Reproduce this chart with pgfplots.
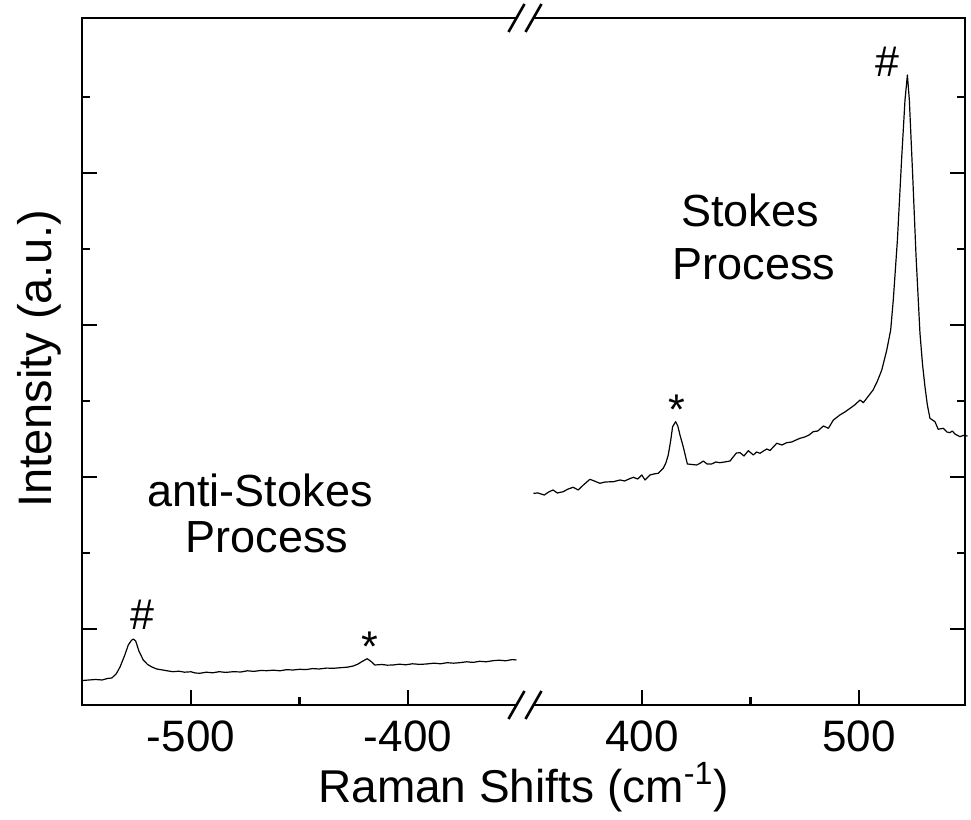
\documentclass[border=0pt]{standalone}
\usepackage{pgfplots}
\usepackage{pgfplotstable}
\pgfplotsset{compat=1.18}
\usepackage{fontspec}
\setmainfont{Liberation Sans}

% anti-Stokes branch (negative shifts)
\pgfplotstableread{
x y
-550 24.5
-547 25
-544 25.5
-541 25
-538.5 26.5
-536.5 27
-534.5 31
-532.7 38
-530.5 50
-528.9 60
-527.5 64.5
-526.6 66
-525.5 64
-524 54
-522 45
-520 40.5
-518 38
-515.8 36
-513 35
-510.5 34
-508.3 33.3
-505.5 33.8
-503 32.8
-500 33.2
-498 32
-495.9 31.7
-493 32.8
-490 32.2
-487 33.3
-484 32.6
-480.5 33.3
-477 33
-474 34.2
-471 33.6
-468 34.5
-465.1 34.3
-462 34.8
-459 34.2
-456 35.3
-453 35
-449.8 35.7
-447 35.4
-444 36.4
-441 36
-437.5 36.9
-434.4 36.7
-431 37.3
-428 37.8
-425.2 39
-423 41
-421.3 43.3
-418.8 46.3
-417 43.5
-415.3 40
-412 40.5
-409.5 39.8
-406.9 40
-404 40.8
-401 40.2
-398 41.2
-394.5 40.6
-391.5 41
-388 41.8
-385 41.2
-382 42.3
-379 41.8
-376.2 42.3
-373 43.2
-370 42.6
-367 43.7
-364 43.2
-360.8 44.3
-358 44.8
-355 44.2
-352 45.4
-350 45
}\antistokes

% Stokes branch (positive shifts)
\pgfplotstableread{
x y
350 211.7
352 212
355 210
357 213
359 215
361 212
363.7 213.3
366 216
368.3 217.7
370.6 215
373 220
376 225.7
378 224
380.6 221.7
383 223
386.8 223.3
389.9 225
392 224
394 226
396 227.7
398 226
399.9 230
401.4 225
403.7 230
405.5 231
407.5 231.7
409.8 236.7
411 242
412.1 250
413.2 264
414.1 278.3
415.5 283.3
416.5 279
417.5 270
419 258.3
420.9 241
423 240.5
425.2 240
427 242
428.2 244
430 241
432.1 241
434 243
435.9 242.3
438 243
440.6 244
442 248
443.5 252
445.2 252.3
447 249
449 254.3
451.3 250
452.8 253
454.4 251.7
456 254
457.5 256
459 254.5
462.1 261.7
464.5 260
466.7 262.3
469 263
471 265
472.8 266.7
475 268
477 270
478.9 273.3
481 274
483.6 279
485.9 276.7
488.2 285
491.2 290
493.5 293
495.9 296.7
498 300
500.5 305
502 302.3
504 308
506.5 315
508.5 324
510.5 335
512.8 355
514.6 375
515.8 405
517.7 465
519.7 548.3
521.2 605
522.3 630
523.2 605
524.7 531.7
526.3 448.3
528.1 371.7
529.3 340
530.4 318.3
531.5 300
532.7 286.7
535 283.3
536.5 275.7
538.8 276.7
540.5 273
541.9 272.3
543 274
544.2 271
546.5 268.3
548 269.5
550 269
}\stokes

\begin{document}
\begin{tikzpicture}
\begin{axis}[
    scale only axis,
    width=441.5pt, height=343.5pt,
    xmin=0, xmax=883, ymin=0, ymax=687,
    clip=false,
    line width=1.3pt,
    tick style={black, line width=1.3pt},
    major tick length=7.5pt, minor tick length=4pt,
    xtick={109,326,560,777},
    xticklabels={-500,-400,400,500},
    minor xtick={217.5,668.5},
    xtick pos=bottom,
    ytick={76,228,380,532},
    minor ytick={152,304,456,608},
    yticklabels={},
    ytick pos=both,
    xticklabel style={font=\fontsize{22}{26}\selectfont, anchor=base, yshift=-23.5pt},
]
\addplot[black, line width=0.6pt, line join=round, mark=none]
    table[x expr={109+(\thisrow{x}+500)*2.17}, y=y] {\antistokes};
\addplot[black, line width=0.6pt, line join=round, mark=none]
    table[x expr={560+(\thisrow{x}-400)*2.17}, y=y] {\stokes};

\node[anchor=base, font=\fontsize{21.5}{24}\selectfont] at (axis cs:60,75) {\#};
\node[anchor=base, font=\fontsize{21.5}{24}\selectfont] at (axis cs:288,43.5) {*};
\node[anchor=base, font=\fontsize{21.5}{24}\selectfont] at (axis cs:595,280.5) {*};
\node[anchor=base, font=\fontsize{21.5}{24}\selectfont] at (axis cs:805,628) {\#};

\node[anchor=base, font=\fontsize{22.5}{26}\selectfont] at (axis cs:178,198) {anti-Stokes};
\node[anchor=base, font=\fontsize{22.5}{26}\selectfont] at (axis cs:185,152) {Process};
\node[anchor=base, font=\fontsize{22.5}{26}\selectfont] at (axis cs:668,478) {Stokes};
\node[anchor=base, font=\fontsize{22.5}{26}\selectfont] at (axis cs:672,425) {Process};

\node[anchor=base, font=\fontsize{23}{27}\selectfont] at (axis cs:441.5,-98) {Raman Shifts (cm\textsuperscript{-1})};
\node[anchor=base, rotate=90, font=\fontsize{23.5}{27}\selectfont] at (axis cs:-30,346) {Intensity (a.u.)};

\coordinate (bl) at (axis cs:434.5,0);
\coordinate (br) at (axis cs:451.5,0);
\coordinate (tl) at (axis cs:434.5,687);
\coordinate (tr) at (axis cs:451.5,687);
\end{axis}
% axis break
\fill[white] ([yshift=-1.2pt]bl) rectangle ([yshift=1.2pt]br);
\fill[white] ([yshift=-1.2pt]tl) rectangle ([yshift=1.2pt]tr);
\foreach \p in {bl,br,tl,tr}
  \draw[line width=1.3pt] ([shift={(-4pt,-7pt)}]\p) -- ([shift={(4pt,7pt)}]\p);
\path (-41pt,-57pt) rectangle (444.5pt,352.5pt);
\end{tikzpicture}
\end{document}
